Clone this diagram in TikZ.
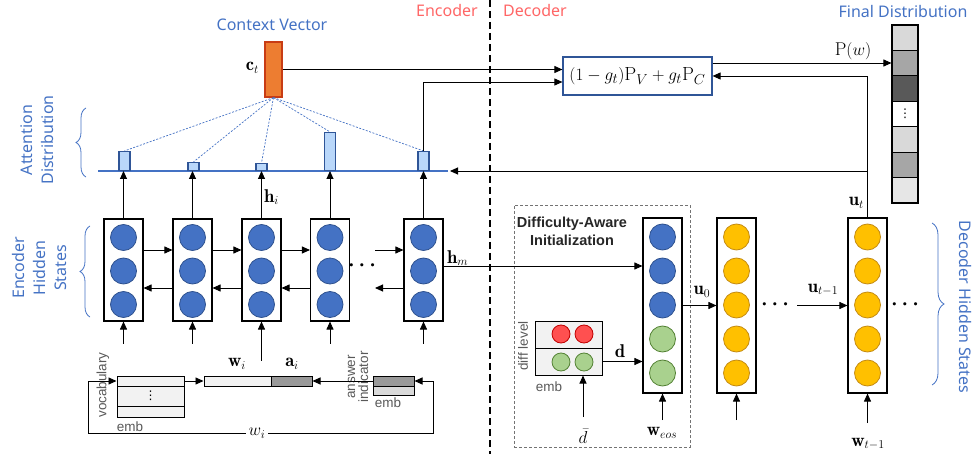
\documentclass[tikz,border=0pt]{standalone}
\usepackage{fontspec}
\usepackage{amsmath,amssymb}
\usetikzlibrary{arrows.meta,decorations.pathreplacing,calc}
\newfontfamily\lblfont{Noto Sans}
\newfontfamily\grfont{Liberation Sans}
\newfontfamily\djfont{DejaVu Sans}
\definecolor{lblblue}{RGB}{68,114,196}
\definecolor{encred}{RGB}{255,102,102}
\definecolor{cblue}{RGB}{68,114,196}
\definecolor{cblueb}{RGB}{47,82,143}
\definecolor{cgreen}{RGB}{169,209,142}
\definecolor{cgreenb}{RGB}{84,130,53}
\definecolor{corange}{RGB}{255,192,0}
\definecolor{corangeb}{RGB}{196,140,20}
\definecolor{cred}{RGB}{255,80,80}
\definecolor{credb}{RGB}{192,0,0}
\definecolor{attfill}{RGB}{185,215,250}
\definecolor{attb}{RGB}{47,85,151}
\definecolor{ctfill}{RGB}{237,125,49}
\definecolor{ctb}{RGB}{200,60,20}
\definecolor{embfill}{RGB}{242,242,242}
\definecolor{embdark}{RGB}{153,153,153}
\definecolor{txtgray}{RGB}{89,89,89}
\definecolor{fdA}{RGB}{217,217,217}
\definecolor{fdB}{RGB}{166,166,166}
\definecolor{fdC}{RGB}{89,89,89}
\definecolor{fdD}{RGB}{255,255,255}
\definecolor{fdE}{RGB}{230,230,230}
\definecolor{boxblue}{RGB}{47,85,151}
\begin{document}
\begin{tikzpicture}[x=1pt,y=-1pt,
  arr/.style={-{Triangle[length=8pt,width=7pt]},line width=0.9pt},
  darr/.style={{Triangle[length=8pt,width=7pt]}-{Triangle[length=8pt,width=7pt]},line width=0.9pt},
  cellbox/.style={draw=black,line width=1.1pt,fill=white,minimum width=39pt,inner sep=0pt},
  bluec/.style={circle,fill=cblue,draw=cblueb,line width=0.8pt,minimum size=26pt,inner sep=0pt},
  greenc/.style={circle,fill=cgreen,draw=cgreenb,line width=0.8pt,minimum size=26pt,inner sep=0pt},
  orangec/.style={circle,fill=corange,draw=corangeb,line width=0.8pt,minimum size=26pt,inner sep=0pt},
  smallred/.style={circle,fill=cred,draw=credb,line width=0.8pt,minimum size=18pt,inner sep=0pt},
  smallgreen/.style={circle,fill=cgreen,draw=cgreenb,line width=0.8pt,minimum size=18pt,inner sep=0pt},
  attbar/.style={draw=attb,fill=attfill,line width=1.1pt,minimum width=11pt,inner sep=0pt,anchor=south},
  embcell/.style={draw=black,line width=1pt,fill=embfill,minimum width=67pt,inner sep=0pt},
  fdcell/.style={draw=black,line width=1.1pt,minimum width=26pt,minimum height=25.4pt,inner sep=0pt},
  bluelbl/.style={text=lblblue,font=\lblfont\fontsize{16}{21}\selectfont,inner sep=0pt,align=center},
  redlbl/.style={text=encred,font=\lblfont\fontsize{16}{20}\selectfont,inner sep=0pt},
  graylbl/.style={text=txtgray,font=\grfont\fontsize{13.5}{13}\selectfont,inner sep=0pt,align=center},
  mlbl/.style={font=\fontsize{18.5}{20}\selectfont,inner sep=0pt},
  dotlbl/.style={font=\fontsize{21}{22}\selectfont,inner sep=0pt},
  vdotlbl/.style={font=\djfont\fontsize{12}{12}\selectfont,inner sep=0pt},
  bracestyle/.style={draw=lblblue,line width=0.8pt,decorate,decoration={brace,amplitude=10pt}},
  attdash/.style={draw=lblblue,line width=0.7pt,dash pattern=on 2pt off 1.5pt}
]
\useasboundingbox (0,0) rectangle (974,454);

% labels on top
\node[bluelbl] (cvlbl) at (272,25) {Context Vector};
\node[redlbl] (enclbl) at (447,11) {Encoder};
\node[redlbl] (declbl) at (535,11) {Decoder};
\node[bluelbl] (fdlbl) at (903,12) {Final Distribution};

% divider
\coordinate (divT) at (490,0);
\coordinate (divB) at (490,454);
\draw[line width=1.6pt,dash pattern=on 7pt off 4pt] (divT) -- (divB);

% encoder cells
\foreach \n/\x in {1/123.5,2/192.5,3/261.5,4/330,5/423.5}{
  \node[cellbox,minimum height=102pt] (e\n) at (\x,270) {};
  \node[bluec] (e\n a) at (\x,237.5) {};
  \node[bluec] (e\n b) at (\x,271) {};
  \node[bluec] (e\n c) at (\x,304.5) {};
}
% forward/backward
\draw[arr] ([yshift=20pt]e1.east) -- ([yshift=20pt]e2.west);
\draw[arr] ([yshift=20pt]e2.east) -- ([yshift=20pt]e3.west);
\draw[arr] ([yshift=20pt]e3.east) -- ([yshift=20pt]e4.west);
\coordinate (fwin) at (375,250);
\draw[arr] (fwin) -- (fwin -| e5.west);
\draw[arr] ([yshift=-18pt]e2.west) -- ([yshift=-18pt]e1.east);
\draw[arr] ([yshift=-18pt]e3.west) -- ([yshift=-18pt]e2.east);
\draw[arr] ([yshift=-18pt]e4.west) -- ([yshift=-18pt]e3.east);
\coordinate (bwout) at (375,288);
\draw[arr] (bwout -| e5.west) -- (bwout);
\node[dotlbl] (edots) at (364,266) {$\boldsymbol{\cdots}$};

% attention line and bars
\coordinate (attL) at (98,171);
\coordinate (attR) at (448,171);
\draw[draw=lblblue,line width=1.5pt] (attL) -- (attR);
\node[attbar,minimum height=19pt] (b1) at (124.5,171) {};
\node[attbar,minimum height=8pt] (b2) at (193.5,171) {};
\node[attbar,minimum height=7pt] (b3) at (261.5,171) {};
\node[attbar,minimum height=38pt] (b4) at (330,171) {};
\node[attbar,minimum height=19pt] (b5) at (423.5,171) {};
\foreach \n in {1,...,5}{
  \draw[arr] (e\n.north) -- (e\n.north |- attL);
}
% context vector
\node[draw=ctb,fill=ctfill,line width=1.1pt,minimum width=17pt,minimum height=55pt,inner sep=0pt] (ct) at (273.5,69.5) {};
\node[mlbl,anchor=east] (ctlbl) at (259,68) {$\mathbf{c}_t$};
\foreach \n in {1,...,5}{
  \draw[attdash] (ct.south) -- (b\n.north);
}
\node[mlbl,anchor=west] (hilbl) at (264,197) {$\mathbf{h}_i$};

% formula box
\node[draw=boxblue,line width=1.2pt,fill=white,minimum width=149pt,minimum height=38pt,inner sep=0pt,font=\fontsize{19}{21}\selectfont] (formula) at (637.5,76) {$(1-g_t)\mathrm{P}_V+g_t\mathrm{P}_C$};
\draw[arr] (ct.east) -- (ct.east -| formula.west);
\draw[arr] (b5.north) |- ([yshift=-6pt]formula.west);

% final distribution
\foreach \i/\c in {1/fdA,2/fdB,3/fdC,4/fdD,5/fdA,6/fdB,7/fdE}{
  \node[fdcell,fill=\c] (fd\i) at (905,{25+25.43*(\i-0.5)}) {};
}
\node[vdotlbl] (fddots) at (fd4) {⋮};
\draw[arr] ([yshift=13pt]formula.east) -- ([yshift=13pt]formula.east -| fd2.west);
\node[mlbl] (pwlbl) at (853,51) {$\mathrm{P}(w)$};

% embeddings
\node[embcell,minimum height=10pt] (v1) at (150.5,381) {};
\node[embcell,minimum height=20pt] (v2) at (150.5,396) {};
\node[embcell,minimum height=11pt] (v3) at (150.5,411.5) {};
\node[vdotlbl] (vdots) at (v2) {⋮};
\node[graylbl,rotate=90] (voclbl) at (103,385) {vocabulary};
\node[graylbl] (emb1) at (130,427) {emb};
\node[draw=black,line width=1pt,fill=embfill,minimum width=67pt,minimum height=10pt,inner sep=0pt] (wbox) at (237.5,381) {};
\node[draw=black,line width=1pt,fill=embdark,minimum width=41pt,minimum height=10pt,inner sep=0pt] (abox) at (291.5,381) {};
\node[mlbl] (wilbl) at (237,364) {$\mathbf{w}_i$};
\node[mlbl] (ailbl) at (292,364) {$\mathbf{a}_i$};
\node[draw=black,line width=1pt,fill=embdark,minimum width=41pt,minimum height=10pt,inner sep=0pt] (ans1) at (393.5,381) {};
\node[draw=black,line width=1pt,fill=fdA,minimum width=41pt,minimum height=9pt,inner sep=0pt] (ans2) at (393.5,390.5) {};
\node[graylbl,rotate=90] (anslbl) at (358,377) {answer\\indicator};
\node[graylbl] (emb2) at (388,403) {emb};
\draw[arr] (v1.east) -- (wbox.west);
\draw[arr] (ans1.west) -- (abox.east);
\coordinate (loopA) at (433,433);
\coordinate (loopB) at (88,433);
\draw[darr] (ans1.east) -| (loopA) -- (loopB) |- (v1.west);
\node[mlbl,fill=white,inner xsep=3pt] (wloop) at (257,433) {$w_i$};
% arrows into encoder cells
\foreach \n in {1,2,4,5}{
  \coordinate (in\n) at ($(e\n.south)+(0,22)$);
  \draw[arr] (in\n) -- (e\n.south);
}
\coordinate (in3) at ($(e3.south)+(0,39)$);
\draw[arr] (in3) -- (e3.south);

% h_m label
\node[mlbl,anchor=west] (hmlbl) at (447,258) {$\mathbf{h}_m$};

% brace labels
\draw[bracestyle] (86,177) -- (86,108);
\node[bluelbl,rotate=90] (attlbl) at (37.5,140) {Attention\\Distribution};
\draw[bracestyle] (90,317) -- (90,226);
\node[bluelbl,rotate=90] (enclbl2) at (39,268) {Encoder\\Hidden\\States};
\draw[bracestyle,decoration={brace,amplitude=12pt}] (932,223) -- (932,385);
\node[bluelbl,rotate=-90] (declbl2) at (965,307) {Decoder Hidden States};

% decoder init
\node[draw=black!55,line width=0.8pt,dash pattern=on 3pt off 2pt,minimum width=176pt,minimum height=242pt,inner sep=0pt] (initbox) at (602,326) {};
\node[font=\grfont\bfseries\fontsize{14.5}{18}\selectfont,inner sep=0pt,align=center,text=black!85] (initlbl) at (572,231) {Difficulty-Aware\\Initialization};
\node[cellbox,minimum height=175pt] (dI) at (662.5,305.5) {};
\node[bluec] (dIa) at (662.5,237) {};
\node[bluec] (dIb) at (662.5,271) {};
\node[bluec] (dIc) at (662.5,305) {};
\node[greenc] (dId) at (662.5,339) {};
\node[greenc] (dIe) at (662.5,373) {};
\draw[arr] ([yshift=4pt]e5.east) -- ([yshift=4pt]e5.east -| dI.west);

\node[draw=black,line width=1pt,fill=embfill,minimum width=67pt,minimum height=27pt,inner sep=0pt] (dr1) at (568.5,334.5) {};
\node[draw=black,line width=1pt,fill=embfill,minimum width=67pt,minimum height=27pt,inner sep=0pt] (dr2) at (568.5,361.5) {};
\node[smallred] (r1) at (561,334) {};
\node[smallred] (r2) at (584,334) {};
\node[smallgreen] (g1) at (561,362) {};
\node[smallgreen] (g2) at (584,362) {};
\node[graylbl,rotate=90] (difflbl) at (523,346) {diff level};
\node[graylbl] (emb3) at (549,387) {emb};
\draw[arr] (dr2.east) -- (dr2.east -| dI.west);
\node[mlbl] (dlbl) at (620,351) {$\mathbf{d}$};
\node[mlbl] (dbar) at (583,436) {$\bar{d}$};
\coordinate (dbarS) at (583,417);
\draw[arr] (dbarS) -- (dbarS |- dr2.south);
\node[mlbl] (weos) at (662,433) {$\mathbf{w}_{eos}$};
\coordinate (weosS) at (662.5,420);
\draw[arr] (weosS) -- (dI.south);

% decoder cells
\foreach \n/\x in {1/736.5,2/867.5}{
  \node[cellbox,minimum height=175pt] (d\n) at (\x,305.5) {};
  \foreach \k/\yy in {a/237,b/271,c/305,d/339,e/373}{
    \node[orangec] (d\n\k) at (\x,\yy) {};
  }
}
\draw[arr] (dI.east) -- (d1.west);
\node[mlbl] (u0lbl) at (702,292) {$\mathbf{u}_0$};
\node[dotlbl] (ddots1) at (777,305) {$\boldsymbol{\cdots}$};
\node[dotlbl] (ddots2) at (907,305) {$\boldsymbol{\cdots}$};
\coordinate (ut1S) at (797,305.5);
\draw[arr] (ut1S) -- (d2.west);
\node[mlbl] (ut1lbl) at (823,290) {$\mathbf{u}_{t-1}$};
\coordinate (d1in) at (736.5,420);
\draw[arr] (d1in) -- (d1.south);
\coordinate (d2in) at (867.5,423);
\draw[arr] (d2in) -- (d2.south);
\node[mlbl] (wt1lbl) at (868,444) {$\mathbf{w}_{t-1}$};
\node[mlbl,anchor=east] (utlbl) at (864,203) {$\mathbf{u}_t$};
\draw[arr] (d2.north) |- (formula.east);
\draw[arr] (d2.north |- attR) -- ([xshift=2pt]attR);
\end{tikzpicture}
\end{document}
